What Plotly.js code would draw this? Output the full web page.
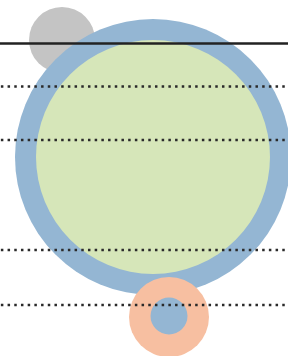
<!DOCTYPE html>
<html>
<head>
<meta charset="utf-8">
<script src="https://cdn.plot.ly/plotly-3.0.1.min.js"></script>
<style>html,body{margin:0;padding:0;background:#fff;}#chart{width:288px;height:356px;}</style>
</head>
<body>
<div id="chart"></div>
<script>
// circles: centre x, centre y, radius (chart units), colour
var circleX = [62, 153, 153, 169, 169];
var circleY = [40, 157, 157, 317, 316];
var circleR = [33, 138, 117, 40, 18.5];
var circleColor = ['#c4c4c4', '#94b6d3', '#d6e6b9', '#f7bfa1', '#94b6d3'];

// horizontal reference lines
var solidLineY = [43.5];
var dottedLineY = [86.5, 140, 250, 305];

var shapes = [];
for (var i = 0; i < circleX.length; i++) {
  shapes.push({
    type: 'circle', xref: 'x', yref: 'y',
    x0: circleX[i] - circleR[i], x1: circleX[i] + circleR[i],
    y0: circleY[i] - circleR[i], y1: circleY[i] + circleR[i],
    fillcolor: circleColor[i], line: {width: 0}, layer: 'above'
  });
}
solidLineY.forEach(function (y) {
  shapes.push({type: 'line', xref: 'paper', yref: 'y', x0: 0, x1: 1, y0: y, y1: y,
    line: {color: '#222222', width: 2.5}, layer: 'above'});
});
dottedLineY.forEach(function (y) {
  shapes.push({type: 'line', xref: 'paper', yref: 'y', x0: 0.003, x1: 1, y0: y, y1: y,
    line: {color: '#2a2a2a', width: 2.5, dash: '2.5px,4.2px'}, layer: 'above'});
});

var layout = {
  width: 288, height: 356,
  margin: {l: 0, r: 0, t: 0, b: 0},
  paper_bgcolor: '#ffffff', plot_bgcolor: '#ffffff',
  showlegend: false,
  xaxis: {range: [0, 288], visible: false, fixedrange: true},
  yaxis: {range: [356, 0], visible: false, fixedrange: true},
  shapes: shapes
};
Plotly.newPlot('chart', [{x: [], y: [], type: 'scatter', mode: 'markers'}], layout, {displayModeBar: false, staticPlot: true});
</script>
</body>
</html>
